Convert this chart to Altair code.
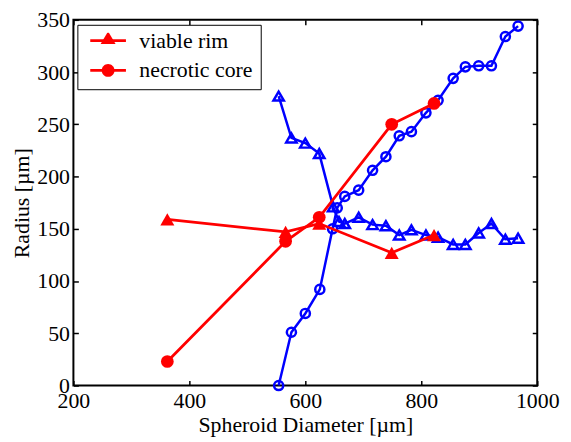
import altair as alt
import pandas as pd

# ---------------- data ----------------
# blue open circles
circ_blue_d = [554, 576, 600, 625, 647, 655, 668, 692, 716, 739, 762, 783, 808, 829, 855, 876, 899, 921, 945, 967]
circ_blue_r = [0, 51, 69, 92, 150, 170, 181, 187, 206, 219, 239, 243, 261, 273, 294, 305, 306, 306, 334, 344]
# blue open triangles
tri_blue_d = [554, 576, 600, 624, 648, 658, 668, 692, 716, 739, 762, 783, 808, 829, 855, 876, 899, 921, 945, 967]
tri_blue_r = [277, 237, 232, 222, 171, 157, 155, 161, 154, 153, 144, 149, 144, 142, 135, 135, 146, 155, 140, 141]
# red series
red_d = [362, 566, 624, 749, 822]
rim_r = [159, 147, 155, 127, 144]     # viable rim (filled triangles)
core_r = [23, 138, 161, 250, 270]     # necrotic core (filled circles)

x_ticks = [200, 400, 600, 800, 1000]
y_ticks = [0, 50, 100, 150, 200, 250, 300, 350]
legend_names = ["viable rim", "necrotic core"]
legend_keys = ["rim", "core"]   # hidden twin legend that carries the markers

W, H = 468, 369
FONT = "Liberation Serif"
BLUE = "#0000ff"
RED = "#ff0000"

df_cb = pd.DataFrame({"d": circ_blue_d, "r": circ_blue_r})
df_tb = pd.DataFrame({"d": tri_blue_d, "r": tri_blue_r})
df_rim = pd.DataFrame({"d": red_d, "r": rim_r})
df_core = pd.DataFrame({"d": red_d, "r": core_r})
df_leg = pd.DataFrame({"d": pd.Series([], dtype=float), "r": pd.Series([], dtype=float),
                       "series": pd.Series([], dtype=str), "key": pd.Series([], dtype=str)})

xs = alt.Scale(domain=[200, 1000], nice=False, zero=False)
ys = alt.Scale(domain=[0, 350], nice=False, zero=False)

# main axes (labels + titles, no ticks)
ax_x_main = alt.Axis(orient="bottom", values=x_ticks, title="Spheroid Diameter [\u00b5m]",
                     ticks=False, tickSize=0, domain=False, grid=False, labelFlush=False,
                     labelOverlap=False, labelPadding=5, titlePadding=3, format="d",
                     labelFont=FONT, titleFont=FONT)
ax_y_main = alt.Axis(orient="left", values=y_ticks, title="Radius [\u00b5m]",
                     ticks=False, tickSize=0, domain=False, grid=False, labelFlush=False,
                     labelOverlap=False, labelPadding=4, titlePadding=3, format="d",
                     labelFont=FONT, titleFont=FONT)


def tick_axis(orient, values, offset):
    return alt.Axis(orient=orient, offset=offset, values=values, labels=False, title=None,
                    domain=False, grid=False, ticks=True, tickSize=5, tickWidth=1.5,
                    tickColor="black")


# inward ticks on bottom/left edges
ax_x_b = tick_axis("top", x_ticks, -H)
ax_y_b = tick_axis("right", y_ticks, -W)
# inward ticks on top/right edges
ax_x_c = tick_axis("bottom", x_ticks, -H)
ax_y_c = tick_axis("left", y_ticks, -W)


def enc(chart, ax_x=None, ax_y=None):
    return chart.encode(
        x=alt.X("d:Q", scale=xs, axis=ax_x),
        y=alt.Y("r:Q", scale=ys, axis=ax_y),
        order=alt.Order("d:Q"),
    )


tb_line = enc(alt.Chart(df_tb).mark_line(color=BLUE, strokeWidth=2.5), ax_x_b, ax_y_b)
tb_pts = enc(alt.Chart(df_tb).mark_point(shape="triangle-up", filled=False, color=BLUE,
                                         strokeWidth=2.5, size=110, opacity=1))
cb_line = enc(alt.Chart(df_cb).mark_line(color=BLUE, strokeWidth=2.5), ax_x_c, ax_y_c)
cb_pts = enc(alt.Chart(df_cb).mark_point(shape="circle", filled=False, color=BLUE,
                                         strokeWidth=2.5, size=85, opacity=1))
rim_line = enc(alt.Chart(df_rim).mark_line(color=RED, strokeWidth=2.8), ax_x_main, ax_y_main)
rim_pts = enc(alt.Chart(df_rim).mark_point(shape="triangle-up", filled=True, color=RED,
                                           size=200, opacity=1))
core_line = enc(alt.Chart(df_core).mark_line(color=RED, strokeWidth=2.8))
core_pts = enc(alt.Chart(df_core).mark_point(shape="circle", filled=True, color=RED,
                                             size=165, opacity=1))

# ---------------- legend: line legend + overlaid marker legend ----------------
LEG_COMMON = dict(
    title=None, orient="none", legendX=4, legendY=5,
    padding=8, clipHeight=16, rowPadding=8,
    symbolSize=1296, symbolOffset=3.5, labelOffset=12, symbolStrokeWidth=2.6,
    labelFont=FONT, labelFontSize=22,
)
TRI_PATH = "M0,-0.52L0.42,0.19L-0.42,0.19Z"
CIRC_PATH = "M0.36,0A0.36,0.36,0,1,1,-0.36,0A0.36,0.36,0,1,1,0.36,0Z"

leg_lines = alt.Chart(df_leg).mark_line(strokeWidth=2.6).encode(
    x=alt.X("d:Q", scale=xs, axis=None),
    y=alt.Y("r:Q", scale=ys, axis=None),
    color=alt.Color(
        "series:N",
        scale=alt.Scale(domain=legend_names, range=[RED, RED]),
        legend=alt.Legend(labelColor="black", strokeColor="black", fillColor="white",
                          **LEG_COMMON),
    ),
)
leg_marks = alt.Chart(df_leg).mark_point(filled=True, color=RED, opacity=1).encode(
    x=alt.X("d:Q", scale=xs, axis=None),
    y=alt.Y("r:Q", scale=ys, axis=None),
    shape=alt.Shape(
        "key:N",
        scale=alt.Scale(domain=legend_keys, range=[TRI_PATH, CIRC_PATH]),
        legend=alt.Legend(labelOpacity=0, labelColor="white", strokeColor="transparent",
                          fillColor="transparent", symbolFillColor=RED,
                          symbolStrokeColor=RED, symbolOpacity=1,
                          labelExpr="datum.label == 'rim' ? 'viable rim' : 'necrotic core'",
                          **LEG_COMMON),
    ),
)

chart = alt.layer(
    tb_line, tb_pts, cb_line, cb_pts, rim_line, rim_pts, core_line, core_pts,
    leg_lines, leg_marks
).resolve_axis(x="independent", y="independent").properties(
    width=W, height=H,
    autosize=alt.AutoSizeParams(type="none"),
    padding={"left": 66, "top": 10, "right": 26, "bottom": 52},
).configure(
    font=FONT
).configure_view(
    stroke="black", strokeWidth=2
).configure_axis(
    labelFont=FONT, labelFontSize=22, labelColor="black",
    titleFont=FONT, titleFontSize=22, titleFontWeight="normal", titleColor="black",
).configure_legend(
    labelFont=FONT
)

chart.save("out.html", embed_options={"renderer": "svg", "actions": False})
